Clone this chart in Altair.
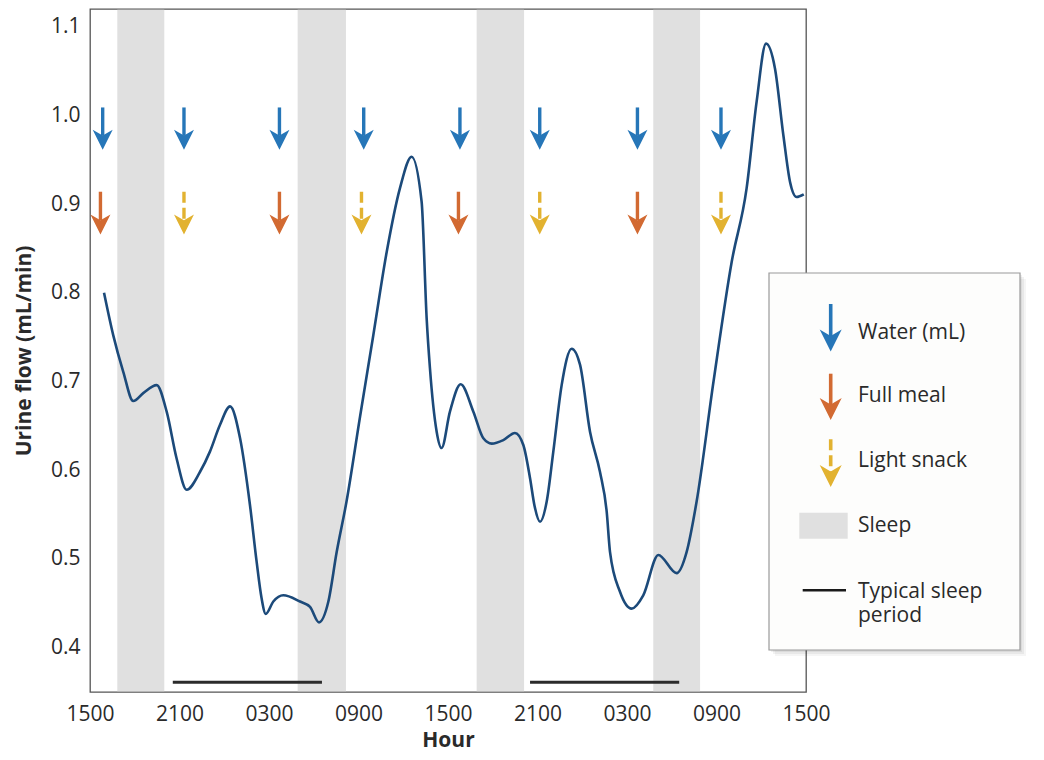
import altair as alt
import pandas as pd

# ---------------- data ----------------
curve_hours = [0.94, 1.56, 2.23, 2.9, 3.57, 4.47, 5.14, 5.81, 6.48, 7.37, 8.04, 8.71, 9.39,
               10.06, 10.73, 11.17, 11.5, 11.78, 12.29, 12.96, 14.08, 14.75, 15.35, 15.98,
               16.54, 17.2, 18.1, 18.99, 19.89, 20.78, 21.56, 22.23, 22.57, 22.79, 23.24,
               23.57, 24.13, 24.85, 25.7, 26.37, 26.93, 27.71, 28.49, 29.05, 29.5, 29.8,
               30.17, 30.62, 31.06, 31.62, 32.29, 32.85, 33.52, 34.19, 34.64, 34.86, 35.53,
               36.31, 37.09, 38.1, 39.33, 40.0, 40.67, 41.8, 43.02, 44.02, 44.69, 45.32,
               45.92, 46.48, 46.93, 47.37, 47.85]
curve_flow = [0.800, 0.752, 0.711, 0.678, 0.687, 0.696, 0.666, 0.613, 0.578, 0.598, 0.621, 0.651, 0.672,
              0.636, 0.560, 0.497, 0.456, 0.438, 0.452, 0.459, 0.452, 0.446, 0.4285, 0.452,
              0.508, 0.565, 0.660, 0.752, 0.846, 0.918, 0.9535, 0.903, 0.771, 0.715, 0.6435,
              0.625, 0.666, 0.697, 0.666, 0.636, 0.630, 0.634, 0.642, 0.6285, 0.591, 0.560,
              0.542, 0.565, 0.621, 0.696, 0.737, 0.719, 0.6435, 0.598, 0.553, 0.508, 0.463,
              0.444, 0.459, 0.5045, 0.484, 0.508, 0.565, 0.700, 0.835, 0.918, 1.0155, 1.081,
              1.053, 0.978, 0.925, 0.908, 0.911]

tick_hours = [0, 6, 12, 18, 24, 30, 36, 42, 48]
tick_labels = ["1500", "2100", "0300", "0900", "1500", "2100", "0300", "0900", "1500"]
y_ticks = [0.4, 0.5, 0.6, 0.7, 0.8, 0.9, 1.0, 1.1]

sleep_start = [1.83, 13.92, 25.92, 37.76]
sleep_end = [4.98, 17.16, 29.10, 40.90]

typical_start = [5.55, 29.5]
typical_end = [15.55, 39.5]
typical_level = [0.361, 0.361]

water_hours = [0.85, 6.3, 12.7, 18.35, 24.8, 30.15, 36.7, 42.3]
meal_hours = [0.7, 12.7, 24.7, 36.7]
snack_hours = [6.3, 18.2, 30.15, 42.3]

legend_labels = ["Water (mL)", "Full meal", "Light snack", "Sleep", "Typical sleep", "period"]

# ---------------- styling ----------------
W, H = 716, 683
FONT = "Open Sans"
BLUE = "#2676b8"
ORANGE = "#d26a32"
YELLOW = "#e2b230"
BAND = "#e0e0e0"
LINE = "#1c4a7a"
TEXT = "#2a2a2a"
HEAD = "M0,1 L-1,-1 L0,-0.42 L1,-1 Z"

xs = alt.Scale(domain=[0, 48], nice=False, zero=False)
ys = alt.Scale(domain=[0.35, 1.12], nice=False, zero=False)

label_expr = "[" + ",".join("'%s'" % t for t in tick_labels) + "][round(datum.value/6)]"

X_AX = alt.Axis(values=tick_hours, labelExpr=label_expr, ticks=False, domain=False,
                grid=False, labelFontSize=21, labelColor=TEXT, labelPadding=11,
                title="Hour", titleFontSize=21, titleFontWeight="bold",
                titleColor=TEXT, titlePadding=5, labelFlush=False, labelFont=FONT,
                titleFont=FONT)
Y_AX = alt.Axis(values=y_ticks, format=".1f", ticks=False, domain=False, grid=False,
                labelFontSize=21, labelColor=TEXT, labelPadding=10,
                title="Urine flow (mL/min)", titleFontSize=21,
                titleFontWeight="bold", titleColor=TEXT, titlePadding=16,
                labelFont=FONT, titleFont=FONT)


def X(field):
    return alt.X(field, scale=xs, axis=X_AX, title="Hour")


def Y(field):
    return alt.Y(field, scale=ys, axis=Y_AX, title="Urine flow (mL/min)")


# sleep bands
bands_df = pd.DataFrame({"s": sleep_start, "e": sleep_end})
bands = alt.Chart(bands_df).mark_rect(color=BAND).encode(
    x=X("s:Q"),
    x2="e:Q",
    y=alt.value(0.8),
    y2=alt.value(H - 0.8),
)

# typical sleep period
typ_df = pd.DataFrame({"s": typical_start, "e": typical_end, "v": typical_level})
typical = alt.Chart(typ_df).mark_rule(color="#2b2b2b", strokeWidth=3).encode(
    x=X("s:Q"),
    x2="e:Q",
    y=Y("v:Q"),
)

# main curve
curve_df = pd.DataFrame({"h": curve_hours, "f": curve_flow})
curve = alt.Chart(curve_df).mark_line(color=LINE, strokeWidth=2.6, interpolate="monotone").encode(
    x=X("h:Q"),
    y=Y("f:Q"),
)


def arrows(hours, top, shaft_end, head_center, color, dash=None):
    df = pd.DataFrame({"h": hours, "t": [top] * len(hours), "b": [shaft_end] * len(hours),
                       "c": [head_center] * len(hours)})
    rule_kw = dict(color=color, strokeWidth=3.4)
    if dash:
        rule_kw["strokeDash"] = dash
    shaft = alt.Chart(df).mark_rule(**rule_kw).encode(
        x=X("h:Q"),
        y=Y("t:Q"),
        y2="b:Q",
    )
    head = alt.Chart(df).mark_point(shape=HEAD, filled=True, fill=color, opacity=1,
                                    strokeWidth=0, size=400).encode(
        x=X("h:Q"),
        y=Y("c:Q"),
    )
    return [shaft, head]


arrow_layers = []
arrow_layers += arrows(water_hours, 1.009, 0.977, 0.9727, BLUE)
arrow_layers += arrows(meal_hours, 0.914, 0.882, 0.877, ORANGE)
arrow_layers += arrows(snack_hours, 0.914, 0.882, 0.877, YELLOW, dash=[11, 5])

# ---------------- legend (drawn in pixel space) ----------------
one = pd.DataFrame({"k": [0]})
leg = []
bx0, bx1, by0, by1 = 679, 930, 264, 641
for off, op in [(6, 0.04), (4, 0.05), (2, 0.06)]:
    leg.append(alt.Chart(one).mark_rect(fill="#000000", opacity=op).encode(
        x=alt.value(bx0 + off), x2=alt.value(bx1 + off),
        y=alt.value(by0 + off), y2=alt.value(by1 + off)))
leg.append(alt.Chart(one).mark_rect(fill="#fdfdfc", stroke="#9a9a9a", strokeWidth=1.2).encode(
    x=alt.value(bx0), x2=alt.value(bx1), y=alt.value(by0), y2=alt.value(by1)))

ax = 740.7
tx = 768
for (top, send, hc, color, dash) in [(295, 329, 331.5, BLUE, None),
                                     (364.7, 397, 400, ORANGE, None),
                                     (430.3, 464, 467, YELLOW, [11, 5])]:
    kw = dict(color=color, strokeWidth=3.6)
    if dash:
        kw["strokeDash"] = dash
    leg.append(alt.Chart(one).mark_rule(**kw).encode(
        x=alt.value(ax), y=alt.value(top), y2=alt.value(send)))
    leg.append(alt.Chart(one).mark_point(shape=HEAD, filled=True, fill=color, opacity=1,
                                         strokeWidth=0, size=484).encode(
        x=alt.value(ax), y=alt.value(hc)))

leg.append(alt.Chart(one).mark_rect(fill=BAND).encode(
    x=alt.value(709.3), x2=alt.value(757.7), y=alt.value(503.7), y2=alt.value(529.7)))
leg.append(alt.Chart(one).mark_rule(color="#1a1a1a", strokeWidth=2.6).encode(
    x=alt.value(712.7), x2=alt.value(756), y=alt.value(581.3)))

text_y = [323.7, 387, 452, 517, 582.5, 607]
for label, ty in zip(legend_labels, text_y):
    leg.append(alt.Chart(one).mark_text(text=label, align="left", baseline="middle",
                                        font=FONT, fontSize=21, color=TEXT).encode(
        x=alt.value(tx), y=alt.value(ty)))

chart = alt.layer(bands, typical, curve, *arrow_layers, *leg).properties(
    width=W, height=H,
    autosize=alt.AutoSizeParams(type="none"),
    padding={"left": 82, "top": 1, "right": 225, "bottom": 60},
).configure(font=FONT).configure_view(stroke="#555555", strokeWidth=1.3)

chart.save("out.html", embed_options={"renderer": "svg", "actions": False})
